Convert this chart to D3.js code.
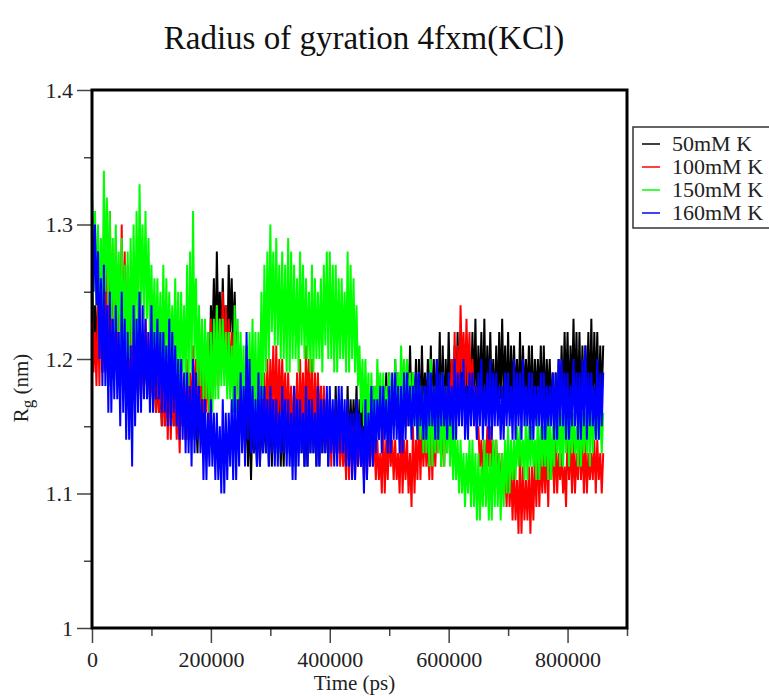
<!DOCTYPE html>
<meta charset="utf-8">
<script src="https://d3js.org/d3.v7.min.js"></script>
<style>
  body { margin: 0; background: #fff; }
</style>
<div id="my_dataviz"></div>
<script>

// series names and colours
var seriesNames = ["50mM K", "100mM K", "150mM K", "160mM K"];
var seriesColors = ["#000000", "#ff0000", "#00ff00", "#0000ff"];

// one value every 2500 ps, from 0 to 860000 ps
var timeStep = 2500;

var rg50 = [
  1.27,1.21,1.24,1.20, 1.25,1.20,1.23,1.19, 1.22,1.19,1.23,1.18, 1.24,1.20,1.22,1.19, 1.23,1.19,1.21,1.18,
  1.22,1.18,1.21,1.19, 1.24,1.19,1.22,1.18, 1.21,1.18,1.20,1.17, 1.22,1.17,1.21,1.18, 1.20,1.18,1.19,1.17,
  1.20,1.17,1.19,1.16, 1.19,1.16,1.18,1.15, 1.20,1.15,1.19,1.16, 1.18,1.16,1.17,1.15, 1.19,1.15,1.18,1.14,
  1.18,1.15,1.17,1.14, 1.19,1.14,1.18,1.15, 1.17,1.14,1.16,1.13, 1.18,1.15,1.19,1.14, 1.20,1.17,1.22,1.16,
  1.24,1.21,1.26,1.20, 1.28,1.22,1.25,1.21, 1.26,1.21,1.24,1.20, 1.27,1.22,1.26,1.21, 1.25,1.20,1.22,1.19,
  1.18,1.14,1.17,1.13, 1.17,1.12,1.16,1.11, 1.16,1.13,1.15,1.12, 1.17,1.12,1.16,1.13, 1.16,1.13,1.17,1.12,
  1.17,1.12,1.16,1.13, 1.18,1.13,1.17,1.12, 1.16,1.12,1.17,1.13, 1.17,1.13,1.16,1.12, 1.18,1.12,1.17,1.13,
  1.17,1.13,1.16,1.12, 1.16,1.12,1.17,1.13, 1.18,1.13,1.17,1.12, 1.17,1.12,1.18,1.13, 1.16,1.13,1.17,1.12,
  1.17,1.14,1.16,1.13, 1.18,1.13,1.17,1.14, 1.17,1.14,1.16,1.13, 1.18,1.13,1.17,1.14, 1.17,1.14,1.18,1.13,
  1.17,1.13,1.18,1.14, 1.18,1.14,1.17,1.13, 1.17,1.13,1.18,1.14, 1.19,1.14,1.18,1.15, 1.18,1.15,1.19,1.14,
  1.19,1.14,1.18,1.15, 1.20,1.15,1.19,1.14, 1.19,1.16,1.18,1.15, 1.20,1.15,1.21,1.16, 1.19,1.16,1.20,1.15,
  1.20,1.15,1.21,1.16, 1.19,1.16,1.20,1.15, 1.21,1.15,1.20,1.16, 1.20,1.16,1.22,1.15, 1.21,1.15,1.20,1.16,
  1.22,1.17,1.20,1.16, 1.21,1.16,1.22,1.17, 1.22,1.17,1.21,1.16, 1.21,1.16,1.20,1.17, 1.22,1.17,1.23,1.16,
  1.21,1.17,1.22,1.16, 1.23,1.16,1.21,1.17, 1.22,1.17,1.20,1.16, 1.21,1.16,1.22,1.17, 1.23,1.17,1.21,1.16,
  1.22,1.16,1.21,1.17, 1.21,1.17,1.20,1.16, 1.22,1.16,1.21,1.17, 1.20,1.17,1.21,1.16, 1.21,1.16,1.20,1.17,
  1.20,1.17,1.21,1.16, 1.21,1.16,1.20,1.17, 1.20,1.16,1.19,1.15, 1.19,1.15,1.20,1.16, 1.21,1.16,1.22,1.17,
  1.22,1.16,1.21,1.17, 1.23,1.17,1.22,1.16, 1.22,1.16,1.21,1.17, 1.21,1.17,1.22,1.16, 1.23,1.16,1.22,1.17,
  1.22,1.16,1.21,1.17,1.21
];

var rg100 = [
  1.25,1.19,1.22,1.18, 1.24,1.18,1.26,1.19, 1.28,1.21,1.27,1.20, 1.31,1.22,1.28,1.21, 1.29,1.21,1.27,1.20,
  1.30,1.20,1.28,1.19, 1.27,1.19,1.26,1.18, 1.25,1.18,1.23,1.17, 1.24,1.17,1.22,1.18, 1.23,1.18,1.22,1.17,
  1.21,1.17,1.20,1.16, 1.20,1.16,1.19,1.15, 1.19,1.15,1.18,1.14, 1.20,1.14,1.19,1.15, 1.18,1.14,1.17,1.13,
  1.19,1.15,1.18,1.14, 1.20,1.14,1.19,1.15, 1.21,1.16,1.20,1.15, 1.22,1.15,1.21,1.16, 1.20,1.16,1.21,1.15,
  1.23,1.17,1.22,1.18, 1.24,1.18,1.23,1.19, 1.25,1.19,1.24,1.18, 1.23,1.18,1.22,1.17, 1.22,1.17,1.21,1.16,
  1.20,1.16,1.19,1.15, 1.21,1.15,1.20,1.14, 1.19,1.14,1.18,1.15, 1.20,1.15,1.19,1.14, 1.19,1.14,1.20,1.15,
  1.20,1.16,1.21,1.15, 1.21,1.15,1.20,1.16, 1.20,1.16,1.19,1.15, 1.19,1.15,1.18,1.14, 1.18,1.14,1.19,1.13,
  1.20,1.15,1.19,1.14, 1.21,1.16,1.20,1.15, 1.20,1.14,1.19,1.15, 1.19,1.15,1.18,1.14, 1.18,1.14,1.17,1.13,
  1.17,1.12,1.16,1.13, 1.16,1.13,1.15,1.12, 1.15,1.12,1.14,1.11, 1.16,1.11,1.15,1.12, 1.15,1.11,1.14,1.12,
  1.15,1.12,1.14,1.11, 1.16,1.11,1.15,1.12, 1.15,1.12,1.14,1.11, 1.14,1.11,1.13,1.10, 1.15,1.10,1.14,1.11,
  1.15,1.12,1.14,1.11, 1.14,1.11,1.13,1.10, 1.15,1.10,1.14,1.11, 1.14,1.10,1.13,1.09, 1.15,1.10,1.14,1.11,
  1.16,1.11,1.15,1.12, 1.15,1.12,1.14,1.11, 1.16,1.11,1.15,1.12, 1.15,1.13,1.16,1.12, 1.16,1.12,1.17,1.13,
  1.18,1.15,1.20,1.14, 1.22,1.16,1.21,1.17, 1.24,1.19,1.22,1.18, 1.23,1.18,1.22,1.17, 1.20,1.16,1.18,1.14,
  1.15,1.12,1.14,1.11, 1.14,1.11,1.15,1.12, 1.15,1.12,1.14,1.11, 1.14,1.11,1.13,1.10, 1.13,1.10,1.12,1.09,
  1.13,1.09,1.12,1.08, 1.12,1.08,1.11,1.07, 1.13,1.07,1.12,1.08, 1.11,1.08,1.12,1.07, 1.12,1.08,1.13,1.09,
  1.14,1.09,1.13,1.10, 1.13,1.10,1.14,1.09, 1.15,1.11,1.14,1.10, 1.14,1.10,1.13,1.11, 1.13,1.10,1.12,1.09,
  1.15,1.11,1.14,1.10, 1.14,1.10,1.13,1.11, 1.15,1.11,1.14,1.10, 1.14,1.10,1.13,1.11, 1.13,1.11,1.14,1.10,
  1.14,1.11,1.13,1.10,1.13
];

var rg150 = [
  1.33,1.25,1.31,1.24, 1.30,1.24,1.29,1.23, 1.34,1.25,1.32,1.24, 1.31,1.23,1.29,1.22, 1.30,1.22,1.28,1.21,
  1.29,1.21,1.27,1.20, 1.28,1.20,1.29,1.21, 1.30,1.21,1.31,1.22, 1.33,1.24,1.30,1.23, 1.31,1.23,1.29,1.22,
  1.27,1.21,1.26,1.20, 1.26,1.20,1.25,1.19, 1.27,1.19,1.26,1.20, 1.25,1.20,1.24,1.19, 1.26,1.19,1.25,1.18,
  1.25,1.19,1.24,1.18, 1.27,1.18,1.28,1.19, 1.31,1.20,1.26,1.18, 1.24,1.18,1.23,1.17, 1.23,1.17,1.22,1.16,
  1.22,1.16,1.23,1.17, 1.24,1.17,1.23,1.18, 1.23,1.18,1.22,1.17, 1.22,1.17,1.21,1.16, 1.24,1.16,1.23,1.17,
  1.22,1.16,1.21,1.15, 1.21,1.15,1.22,1.16, 1.23,1.16,1.22,1.15, 1.22,1.16,1.25,1.17, 1.27,1.19,1.28,1.20,
  1.30,1.22,1.28,1.21, 1.29,1.21,1.27,1.20, 1.28,1.20,1.27,1.19, 1.29,1.19,1.28,1.20, 1.27,1.20,1.26,1.19,
  1.28,1.21,1.27,1.20, 1.26,1.20,1.25,1.19, 1.27,1.19,1.26,1.20, 1.25,1.20,1.26,1.19, 1.27,1.21,1.28,1.20,
  1.28,1.20,1.27,1.19, 1.27,1.19,1.26,1.20, 1.26,1.20,1.25,1.19, 1.28,1.19,1.27,1.20, 1.26,1.19,1.24,1.18,
  1.21,1.16,1.20,1.15, 1.20,1.15,1.19,1.14, 1.19,1.14,1.18,1.15, 1.20,1.16,1.19,1.15, 1.19,1.15,1.18,1.14,
  1.19,1.14,1.18,1.15, 1.20,1.15,1.19,1.16, 1.21,1.17,1.20,1.16, 1.20,1.16,1.19,1.15, 1.19,1.15,1.18,1.14,
  1.19,1.14,1.18,1.13, 1.18,1.13,1.17,1.12, 1.20,1.12,1.18,1.13, 1.18,1.13,1.17,1.12, 1.19,1.12,1.18,1.13,
  1.17,1.12,1.16,1.11, 1.15,1.11,1.14,1.10, 1.14,1.10,1.13,1.09, 1.13,1.10,1.14,1.09, 1.14,1.09,1.13,1.08,
  1.13,1.08,1.12,1.09, 1.14,1.09,1.13,1.08, 1.13,1.08,1.14,1.09, 1.14,1.09,1.13,1.08, 1.13,1.09,1.14,1.10,
  1.15,1.10,1.14,1.11, 1.14,1.11,1.15,1.12, 1.15,1.12,1.14,1.11, 1.16,1.11,1.15,1.12, 1.15,1.12,1.14,1.11,
  1.16,1.11,1.15,1.12, 1.15,1.12,1.16,1.11, 1.16,1.11,1.15,1.12, 1.17,1.13,1.16,1.12, 1.16,1.12,1.17,1.13,
  1.17,1.12,1.16,1.13, 1.16,1.13,1.15,1.12, 1.17,1.12,1.16,1.13, 1.16,1.13,1.17,1.12, 1.18,1.13,1.17,1.14,
  1.17,1.14,1.16,1.13,1.16
];

var rg160 = [
  1.32,1.25,1.30,1.24, 1.28,1.20,1.26,1.18, 1.27,1.18,1.24,1.16, 1.25,1.16,1.23,1.17, 1.24,1.17,1.22,1.15,
  1.25,1.16,1.23,1.14, 1.22,1.14,1.21,1.12, 1.24,1.15,1.23,1.16, 1.25,1.16,1.24,1.17, 1.23,1.17,1.22,1.16,
  1.24,1.16,1.22,1.17, 1.23,1.17,1.22,1.16, 1.22,1.16,1.21,1.15, 1.23,1.15,1.22,1.16, 1.21,1.15,1.20,1.14,
  1.20,1.14,1.19,1.13, 1.19,1.13,1.18,1.12, 1.20,1.13,1.19,1.14, 1.18,1.13,1.17,1.11, 1.17,1.11,1.16,1.12,
  1.17,1.12,1.16,1.11, 1.16,1.11,1.15,1.10, 1.17,1.10,1.16,1.11, 1.16,1.12,1.17,1.11, 1.18,1.11,1.17,1.12,
  1.19,1.13,1.18,1.12, 1.22,1.14,1.20,1.13, 1.18,1.13,1.17,1.12, 1.19,1.12,1.18,1.13, 1.18,1.13,1.17,1.12,
  1.18,1.13,1.17,1.12, 1.17,1.12,1.16,1.13, 1.18,1.13,1.17,1.12, 1.17,1.12,1.16,1.11, 1.18,1.11,1.17,1.12,
  1.17,1.13,1.16,1.12, 1.18,1.12,1.17,1.13, 1.17,1.13,1.16,1.12, 1.18,1.12,1.17,1.13, 1.17,1.13,1.18,1.12,
  1.18,1.13,1.17,1.12, 1.17,1.12,1.18,1.13, 1.18,1.13,1.17,1.12, 1.17,1.12,1.16,1.11, 1.16,1.11,1.17,1.12,
  1.16,1.12,1.15,1.10, 1.17,1.11,1.16,1.12, 1.18,1.12,1.17,1.13, 1.17,1.14,1.18,1.13, 1.18,1.14,1.17,1.13,
  1.18,1.13,1.19,1.14, 1.19,1.14,1.18,1.13, 1.18,1.13,1.19,1.14, 1.19,1.15,1.18,1.14, 1.18,1.15,1.19,1.14,
  1.19,1.15,1.18,1.14, 1.18,1.14,1.19,1.15, 1.19,1.15,1.18,1.14, 1.20,1.14,1.19,1.15, 1.19,1.15,1.18,1.14,
  1.19,1.15,1.18,1.14, 1.20,1.14,1.19,1.15, 1.19,1.15,1.20,1.14, 1.18,1.14,1.19,1.15, 1.19,1.15,1.18,1.14,
  1.19,1.15,1.20,1.14, 1.18,1.15,1.19,1.14, 1.20,1.14,1.19,1.15, 1.19,1.15,1.18,1.14, 1.18,1.14,1.19,1.15,
  1.19,1.15,1.18,1.14, 1.20,1.14,1.19,1.15, 1.19,1.14,1.20,1.15, 1.18,1.15,1.19,1.14, 1.19,1.14,1.18,1.15,
  1.18,1.15,1.19,1.14, 1.19,1.14,1.18,1.15, 1.18,1.15,1.19,1.14, 1.19,1.14,1.20,1.15, 1.20,1.15,1.19,1.14,
  1.19,1.14,1.18,1.15, 1.20,1.15,1.19,1.14, 1.19,1.14,1.20,1.15, 1.21,1.14,1.19,1.15, 1.19,1.15,1.18,1.14,
  1.20,1.14,1.19,1.15,1.19
];

var allSeries = [rg50, rg100, rg150, rg160];

// axis ticks
var xTicksMajor = [0, 200000, 400000, 600000, 800000];
var xTicksMinor = [100000, 300000, 500000, 700000, 900000];
var yTicksMajor = [1, 1.1, 1.2, 1.3, 1.4];
var yTicksMinor = [1.05, 1.15, 1.25, 1.35];

var serif = "'Liberation Serif', 'Times New Roman', serif";

// set the dimensions and margins of the graph
var margin = {top: 90, right: 142, bottom: 68, left: 92},
    width = 769 - margin.left - margin.right,
    height = 696 - margin.top - margin.bottom;

var root = d3.select("#my_dataviz")
  .append("svg")
    .attr("width", 769)
    .attr("height", 696);

var svg = root.append("g")
    .attr("transform", "translate(" + margin.left + "," + margin.top + ")");

// title
root.append("text")
  .attr("x", 364)
  .attr("y", 49)
  .attr("text-anchor", "middle")
  .style("font-family", serif)
  .style("font-size", "33px")
  .attr("fill", "#111")
  .text("Radius of gyration 4fxm(KCl)");

var x = d3.scaleLinear()
  .domain([0, 900000])
  .range([0, width]);

var y = d3.scaleLinear()
  .domain([1, 1.4])
  .range([height, 0]);

// minor ticks first, then major ones with labels
svg.append("g")
  .attr("transform", "translate(0," + height + ")")
  .call(d3.axisBottom(x).tickValues(xTicksMinor).tickSize(8).tickFormat(""));
svg.append("g")
  .attr("transform", "translate(0," + height + ")")
  .call(d3.axisBottom(x).tickValues(xTicksMajor).tickSize(15).tickPadding(8).tickFormat(d3.format("d")));
svg.append("g")
  .call(d3.axisLeft(y).tickValues(yTicksMinor).tickSize(8).tickFormat(""));
svg.append("g")
  .call(d3.axisLeft(y).tickValues(yTicksMajor).tickSize(15).tickPadding(4).tickFormat(function(d) { return d === 1 ? "1" : d3.format(".1f")(d); }));

svg.selectAll(".domain").remove();
svg.selectAll(".tick line").attr("stroke", "#444").attr("stroke-width", 1.5);
svg.selectAll(".tick text")
  .style("font-family", serif)
  .style("font-size", "22px")
  .attr("fill", "#222");

// the lines, black drawn first and blue last
var line = d3.line()
  .x(function(d, i) { return x(i * timeStep); })
  .y(function(d) { return y(d); });

var plot = svg.append("g");
allSeries.forEach(function(values, k) {
  plot.append("path")
    .datum(values)
    .attr("d", line)
    .attr("fill", "none")
    .attr("stroke", seriesColors[k])
    .attr("stroke-width", 2)
    .attr("stroke-linejoin", "bevel");
});

// frame
svg.append("rect")
  .attr("x", 0)
  .attr("y", 0)
  .attr("width", width)
  .attr("height", height)
  .attr("fill", "none")
  .attr("stroke", "#000")
  .attr("stroke-width", 3);

// axis labels
svg.append("text")
  .attr("x", width / 2 - 5)
  .attr("y", height + 62)
  .attr("text-anchor", "middle")
  .style("font-family", serif)
  .style("font-size", "21px")
  .attr("fill", "#222")
  .text("Time (ps)");

var ylab = root.append("text")
  .attr("transform", "translate(28,388) rotate(-90)")
  .attr("text-anchor", "middle")
  .style("font-family", serif)
  .style("font-size", "21px")
  .attr("fill", "#222");
ylab.append("tspan").text("R");
ylab.append("tspan").attr("dy", 5).style("font-size", "17px").text("g");
ylab.append("tspan").attr("dy", -5).text(" (nm)");

// legend
var legend = root.append("g");
legend.append("rect")
  .attr("x", 633)
  .attr("y", 127)
  .attr("width", 150)
  .attr("height", 101)
  .attr("fill", "#fff")
  .attr("stroke", "#333")
  .attr("stroke-width", 1.5);

seriesNames.forEach(function(name, k) {
  var ly = 144 + k * 23;
  legend.append("line")
    .attr("x1", 642).attr("x2", 660)
    .attr("y1", ly).attr("y2", ly)
    .attr("stroke", seriesColors[k])
    .attr("stroke-width", 1.5);
  legend.append("text")
    .attr("x", 672)
    .attr("y", ly + 7)
    .style("font-family", serif)
    .style("font-size", "22px")
    .attr("fill", "#222")
    .text(name);
});

</script>
